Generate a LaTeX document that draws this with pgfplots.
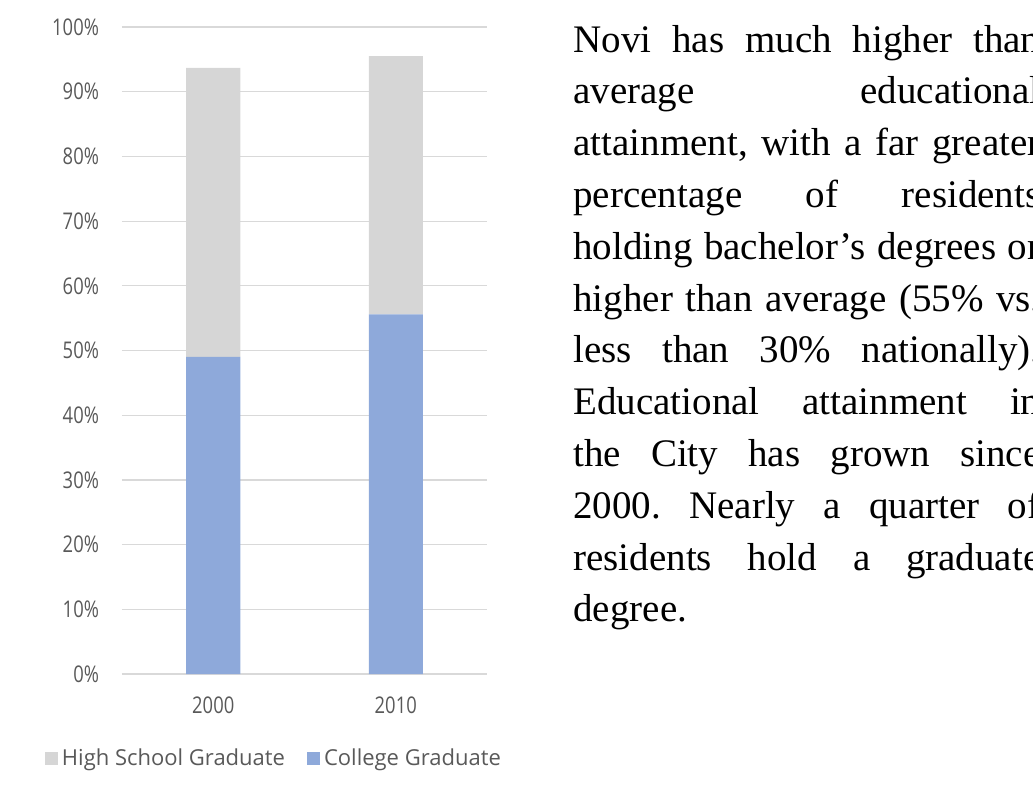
\documentclass[border=0pt]{standalone}
\usepackage{fontspec}
\usepackage{graphicx}
\setmainfont{Liberation Serif}
\newfontfamily\chartfont{Open Sans}
\usepackage{pgfplots}
\pgfplotsset{compat=1.18}
\definecolor{hsgray}{HTML}{D6D6D6}
\definecolor{cgblue}{HTML}{8EA9DA}
\definecolor{gridc}{HTML}{D9D9D9}
\definecolor{labc}{HTML}{595959}
\newcommand\jl[1]{\makebox[\linewidth][s]{#1}\par}
\newcommand\sq[1]{\scalebox{0.8}[1]{#1}}
\begin{document}
\begin{tikzpicture}
\path[use as bounding box, clip] (0,0) rectangle (516.5pt,392pt);
\begin{axis}[
  at={(61pt,55pt)}, anchor=south west,
  scale only axis, width=182.5pt, height=323.5pt,
  ybar stacked, bar width=27pt,
  xmin=-0.5, xmax=1.5, ymin=0, ymax=100,
  xtick={0,1}, xticklabels={\sq{2000},\sq{2010}},
  ytick={0,10,...,100},
  yticklabel={\sq{\pgfmathprintnumber{\tick}\%}},
  /pgf/number format/assume math mode=true,
  major tick length=0pt,
  axis line style={draw=none},
  ymajorgrids, grid style={color=gridc, line width=0.6pt},
  tick label style={font=\chartfont\fontsize{11.5pt}{13pt}\selectfont, text=labc},
  yticklabel style={xshift=-8pt},
  xticklabel style={yshift=-8pt},
  reverse legend,
  legend columns=-1,
  legend style={at={(0.419,-0.131)}, anchor=center, draw=none, fill=none,
    font=\chartfont\fontsize{11pt}{13pt}\selectfont, text=labc,
    /tikz/every even column/.append style={column sep=9pt}},
  legend image code/.code={\fill[#1] (0pt,-3.25pt) rectangle (6.5pt,3.25pt);},
  legend cell align=left,
]
\addplot[fill=cgblue, draw=none] coordinates {(0,49.0) (1,55.6)};
\addplot[fill=hsgray, draw=none] coordinates {(0,44.7) (1,39.9)};
\legend{College Graduate, High School Graduate}
\end{axis}
\node[anchor=base west, inner sep=0pt] at (286.5pt,366pt) {%
\begin{minipage}[t]{233.5pt}
\frenchspacing
\fontsize{19.5pt}{25.9pt}\selectfont\setlength{\parindent}{0pt}\setlength{\parskip}{0pt}%
\jl{Novi has much higher than}
\jl{average educational}
\jl{attainment, with a far greater}
\jl{percentage of residents}
\jl{holding bachelor’s degrees or}
\jl{higher than average (55\% vs.}
\jl{less than 30\% nationally).}
\jl{Educational attainment in}
\jl{the City has grown since}
\jl{2000. Nearly a quarter of}
\jl{residents hold a graduate}
degree.
\end{minipage}};
\end{tikzpicture}
\end{document}
